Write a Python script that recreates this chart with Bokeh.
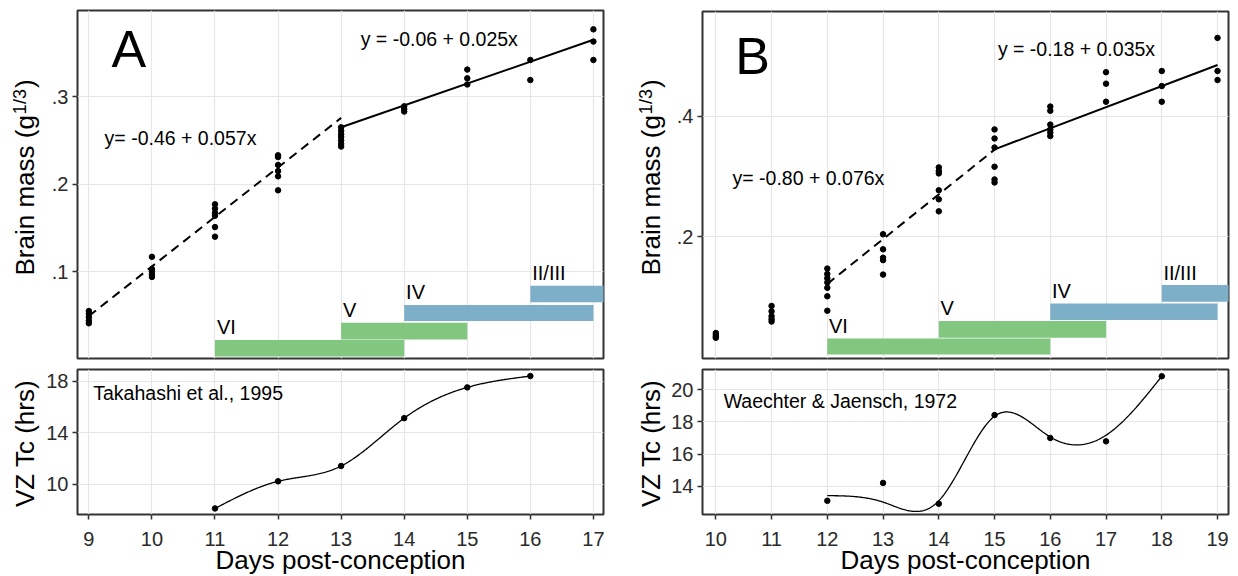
import math
import numpy as np
from bokeh.plotting import figure
from bokeh.models import FixedTicker, Range1d, Title
from bokeh.layouts import row, column
from bokeh.embed import file_html
from bokeh.resources import INLINE
from bokeh.core.properties import value

FONT = "Liberation Sans"
GRID = "#e6e6e6"
FRAME = "#333333"
TICKTXT = "#2a2a2a"

# ---------------- data ----------------
stage_names = ["VI", "V", "IV", "II/III"]
stage_colors = ["#82c77f", "#82c77f", "#7eafc8", "#7eafc8"]

# Panel A (brain mass)
a_days = [9] * 5 + [10] * 5 + [11] * 6 + [12] * 6 + [13] * 7 + [14] * 3 + [15] * 3 + [16] * 2 + [17] * 3
a_mass = [0.055, 0.052, 0.048, 0.044, 0.041,
          0.117, 0.103, 0.100, 0.097, 0.094,
          0.177, 0.172, 0.167, 0.164, 0.151, 0.140,
          0.233, 0.231, 0.222, 0.215, 0.209, 0.193,
          0.265, 0.261, 0.257, 0.254, 0.250, 0.246, 0.243,
          0.289, 0.286, 0.283,
          0.331, 0.321, 0.314,
          0.342, 0.319,
          0.377, 0.363, 0.342]
a_dash_fit = [-0.46, 0.0566]
a_dash_span = [9, 13]
a_solid_fit = [-0.06, 0.025]
a_solid_span = [13, 17]
a_stage_start = [11, 13, 14, 16]
a_stage_end = [14, 15, 17, 17.6]
a_stage_bottom = [0.003, 0.0225, 0.0437, 0.065]
a_stage_top = [0.022, 0.0417, 0.062, 0.084]
a_tc_days = [11, 12, 13, 14, 15, 16]
a_tc_hrs = [8.10, 10.21, 11.40, 15.12, 17.51, 18.39]
a_xticks = [9, 10, 11, 12, 13, 14, 15, 16, 17]
a_top_yticks = [0.1, 0.2, 0.3]
a_top_ylabels = [".1", ".2", ".3"]
a_bot_yticks = [10, 14, 18]

# Panel B (brain mass)
b_days = [10] * 4 + [11] * 5 + [12] * 7 + [13] * 5 + [14] * 6 + [15] * 6 + [16] * 6 + [17] * 3 + [18] * 3 + [19] * 3
b_mass = [0.040, 0.037, 0.034, 0.032,
          0.085, 0.076, 0.068, 0.063, 0.059,
          0.147, 0.138, 0.131, 0.124, 0.115, 0.101, 0.077,
          0.204, 0.179, 0.165, 0.161, 0.137,
          0.315, 0.309, 0.305, 0.277, 0.262, 0.242,
          0.378, 0.363, 0.348, 0.316, 0.295, 0.290,
          0.416, 0.409, 0.386, 0.378, 0.373, 0.367,
          0.473, 0.454, 0.424,
          0.475, 0.450, 0.424,
          0.530, 0.475, 0.460]
b_dash_fit = [-0.77, 0.0743]
b_dash_span = [12, 15]
b_solid_fit = [-0.18, 0.035]
b_solid_span = [15, 19]
b_stage_start = [12, 14, 16, 18]
b_stage_end = [16, 17, 19, 19.6]
b_stage_bottom = [0.0044, 0.032, 0.0615, 0.092]
b_stage_top = [0.031, 0.060, 0.089, 0.1197]
b_tc_days = [12, 13, 14, 15, 16, 17, 18]
b_tc_hrs = [13.10, 14.21, 12.92, 18.42, 17.00, 16.79, 20.83]
b_tc_smooth = [13.42, 13.02, 13.10, 18.35, 17.06, 17.17, 20.83]
b_xticks = [10, 11, 12, 13, 14, 15, 16, 17, 18, 19]
b_top_yticks = [0.2, 0.4]
b_top_ylabels = [".2", ".4"]
b_bot_yticks = [14, 16, 18, 20]


def natural_spline(x, y, xs):
    x = np.asarray(x, float)
    y = np.asarray(y, float)
    n = len(x)
    h = np.diff(x)
    A = np.zeros((n, n))
    r = np.zeros(n)
    A[0, 0] = 1.0
    A[-1, -1] = 1.0
    for i in range(1, n - 1):
        A[i, i - 1] = h[i - 1]
        A[i, i] = 2 * (h[i - 1] + h[i])
        A[i, i + 1] = h[i]
        r[i] = 3 * ((y[i + 1] - y[i]) / h[i] - (y[i] - y[i - 1]) / h[i - 1])
    c = np.linalg.solve(A, r)
    b = (y[1:] - y[:-1]) / h - h * (2 * c[:-1] + c[1:]) / 3
    d = (c[1:] - c[:-1]) / (3 * h)
    idx = np.clip(np.searchsorted(x, xs) - 1, 0, n - 2)
    dx = xs - x[idx]
    return y[idx] + b[idx] * dx + c[idx] * dx ** 2 + d[idx] * dx ** 3


def style_y(p, ticks, labels=None):
    ax = p.yaxis[0]
    ax.ticker = FixedTicker(ticks=ticks)
    if labels:
        ax.major_label_overrides = {t: l for t, l in zip(ticks, labels)}
    ax.axis_line_color = None
    ax.major_tick_line_color = FRAME
    ax.major_tick_line_width = 1.5
    ax.major_tick_out = 5
    ax.major_tick_in = 0
    ax.minor_tick_line_color = None
    ax.major_label_text_font = FONT
    ax.major_label_text_font_size = "20px"
    ax.major_label_text_color = TICKTXT
    ax.major_label_standoff = 4
    p.ygrid.ticker = FixedTicker(ticks=ticks)
    p.ygrid.grid_line_color = GRID
    p.ygrid.grid_line_width = 1.2


def base_fig(width, height, xr, yr, bl, br, bt, bb, with_x):
    p = figure(width=width, height=height, x_range=Range1d(*xr), y_range=Range1d(*yr),
               output_backend="svg", toolbar_location=None, title=None,
               x_axis_location="below" if with_x else None, frame_align=False,
               min_border_left=bl, min_border_right=br, min_border_top=bt, min_border_bottom=bb)
    p.outline_line_color = FRAME
    p.outline_line_width = 2
    p.background_fill_color = "white"
    p.border_fill_color = "white"
    p.xgrid.grid_line_color = GRID
    p.xgrid.grid_line_width = 1.2
    return p


def text(p, x, y, s, size, align="left", baseline="middle", color="black", angle=0.0):
    p.text(x=[x], y=[y], text=[s], text_font=value(FONT), text_font_size=size,
           text_align=align, text_baseline=baseline, text_color=color, angle=angle)


def title_fig(width, height):
    p = figure(width=width, height=height, x_range=Range1d(0, width), y_range=Range1d(0, height),
               output_backend="svg", toolbar_location=None, title=None, frame_align=False,
               x_axis_location=None, y_axis_location=None, min_border=0)
    p.outline_line_color = None
    p.grid.visible = False
    p.background_fill_color = "white"
    p.border_fill_color = "white"
    return p


def mass_title(width, mid_x, start_y_page):
    # figure spans page y 0..360 ; local y = 360 - page y
    t = title_fig(width, 360)
    fs, fsup = 26, 18
    main_len = 6.168 * fs
    sup_len = 1.39 * fsup
    y0 = 360 - start_y_page
    text(t, mid_x, y0, "Brain mass (g", f"{fs}px", angle=math.pi / 2)
    text(t, mid_x - 5, y0 + main_len + 1, "1/3", f"{fsup}px", angle=math.pi / 2)
    text(t, mid_x, y0 + main_len + sup_len + 2, ")", f"{fs}px", angle=math.pi / 2)
    return t


def tc_title(width, mid_x, center_y_page):
    # figure spans page y 360..576 ; local y = 576 - page y
    t = title_fig(width, 216)
    half = 5.0 * 26 / 2
    text(t, mid_x, 576 - (center_y_page + half), "VZ Tc (hrs)", "26px", align="left",
         angle=math.pi / 2)
    return t


def top_panel(width, bl, br, bt, fh, xr, yr, xticks, yticks, ylabels, days, mass,
              dash_fit, dash_span, solid_fit, solid_span,
              st_start, st_end, st_bottom, st_top, letter, letter_xy,
              eq_solid, eq_solid_xy, eq_dash, eq_dash_xy):
    p = base_fig(width, 360, xr, yr, bl, br, bt, 360 - bt - fh, False)
    p.xgrid.ticker = FixedTicker(ticks=xticks)
    style_y(p, yticks, ylabels)
    p.quad(left=st_start, right=st_end, bottom=st_bottom, top=st_top,
           fill_color=stage_colors, line_color=None)
    pad = 1.5 * (yr[1] - yr[0]) / fh
    p.text(x=[s + 0.03 for s in st_start], y=[t + pad for t in st_top], text=stage_names,
           text_font=value(FONT), text_font_size="20px", text_align="left",
           text_baseline="bottom", text_color="black")
    dxs = np.array(dash_span, float)
    p.line(dxs, dash_fit[0] + dash_fit[1] * dxs, line_color="black", line_width=2, line_dash="9 6")
    sxs = np.array(solid_span, float)
    p.line(sxs, solid_fit[0] + solid_fit[1] * sxs, line_color="black", line_width=2)
    p.scatter(days, mass, size=5.5, color="black")
    text(p, letter_xy[0], letter_xy[1], letter, "52px", align="center")
    text(p, eq_solid_xy[0], eq_solid_xy[1], eq_solid, "19.5px")
    text(p, eq_dash_xy[0], eq_dash_xy[1], eq_dash, "19.5px")
    return p


def bottom_panel(width, bl, br, xr, yr, xticks, yticks, tc_days, curve_x, curve_y, pts,
                 cite, cite_xy):
    p = base_fig(width, 216, xr, yr, bl, br, 9, 62, True)
    ax = p.xaxis[0]
    ax.ticker = FixedTicker(ticks=xticks)
    ax.axis_line_color = None
    ax.major_tick_line_color = FRAME
    ax.major_tick_line_width = 1.5
    ax.major_tick_out = 5
    ax.major_tick_in = 0
    ax.minor_tick_line_color = None
    ax.major_label_text_font = FONT
    ax.major_label_text_font_size = "20px"
    ax.major_label_text_color = TICKTXT
    ax.major_label_standoff = 12
    p.xgrid.ticker = FixedTicker(ticks=xticks)
    style_y(p, yticks)
    xs = np.linspace(curve_x[0], curve_x[-1], 300)
    p.line(xs, natural_spline(curve_x, curve_y, xs), line_color="black", line_width=1.3)
    p.scatter(tc_days, pts, size=5.5, color="black")
    text(p, cite_xy[0], cite_xy[1], cite, "19.5px")
    p.add_layout(Title(text="Days post-conception", align="center", text_font=FONT,
                       text_font_size="26px", text_font_style="normal", text_color="black",
                       standoff=-11), "below")
    return p


# ranges
a_xr = (8.82, 17.16)
b_xr = (9.761, 19.197)
a_top_yr = (0.0008, 0.3985)
b_top_yr = (-0.0023, 0.5738)
a_bot_yr = (7.63, 18.9)
b_bot_yr = (12.25, 21.25)

# column A: title strip 42 px, panels 578 px (frame from page x 77 to 603)
tA1 = mass_title(42, 24, 275)
tA2 = tc_title(42, 24, 441.5)
pA1 = top_panel(578, 35, 17, 10, 348, a_xr, a_top_yr, a_xticks, a_top_yticks, a_top_ylabels,
                a_days, a_mass, a_dash_fit, a_dash_span, a_solid_fit, a_solid_span,
                a_stage_start, a_stage_end, a_stage_bottom, a_stage_top,
                "A", (9.636, 0.354), "y = -0.06 + 0.025x", (13.31, 0.366),
                "y= -0.46 + 0.057x", (9.25, 0.253))
pA2 = bottom_panel(578, 35, 17, a_xr, a_bot_yr, a_xticks, a_bot_yticks,
                   a_tc_days, a_tc_days, a_tc_hrs, a_tc_hrs,
                   "Takahashi et al., 1995", (9.07, 17.09))

# column B: title strip 46 px, panels 572 px (frame from page x 702 to 1228)
tB1 = mass_title(46, 30.5, 275)
tB2 = tc_title(46, 30.5, 441.5)
pB1 = top_panel(572, 36, 10, 11, 347, b_xr, b_top_yr, b_xticks, b_top_yticks, b_top_ylabels,
                b_days, b_mass, b_dash_fit, b_dash_span, b_solid_fit, b_solid_span,
                b_stage_start, b_stage_end, b_stage_bottom, b_stage_top,
                "B", (10.66, 0.50), "y = -0.18 + 0.035x", (15.06, 0.512),
                "y= -0.80 + 0.076x", (10.30, 0.298))
pB2 = bottom_panel(572, 36, 10, b_xr, b_bot_yr, b_xticks, b_bot_yticks,
                   b_tc_days, b_tc_days, b_tc_smooth, b_tc_hrs,
                   "Waechter & Jaensch, 1972", (10.14, 19.31))

layout = row(column(row(tA1, pA1), row(tA2, pA2)),
             column(row(tB1, pB1), row(tB2, pB2)))
open("out.html", "w").write(file_html(layout, INLINE))
